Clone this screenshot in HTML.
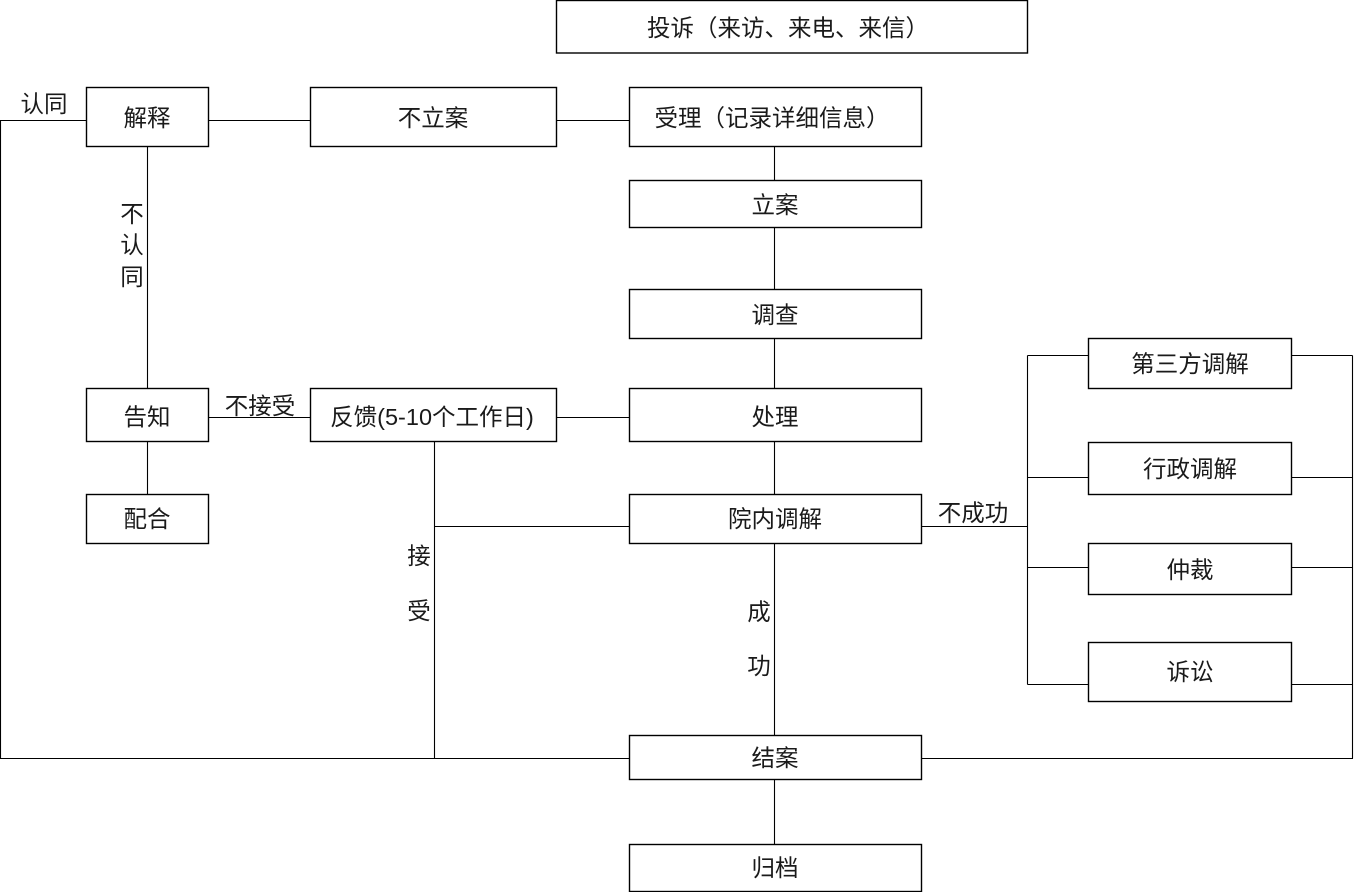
<!DOCTYPE html>
<html>
<head>
<meta charset="utf-8">
<style>
  html,body{margin:0;padding:0;background:#fff;}
  svg{display:block;}
  text{font-family:"Liberation Sans","Noto Sans CJK SC","WenQuanYi Zen Hei",sans-serif;font-size:23.5px;fill:#1a1a1a;}
</style>
</head>
<body>
<svg width="1354" height="892" viewBox="0 0 1354 892" xmlns="http://www.w3.org/2000/svg">
  <g fill="none" stroke="#000" stroke-width="1.4">
    <rect x="556.5" y="0.5" width="471" height="52.5"/>
    <rect x="86.5" y="87.5" width="122" height="59"/>
    <rect x="310.5" y="87.5" width="246" height="59"/>
    <rect x="629.5" y="87.5" width="292" height="59"/>
    <rect x="629.5" y="180.5" width="292" height="47"/>
    <rect x="629.5" y="289.5" width="292" height="49"/>
    <rect x="86.5" y="388.5" width="122" height="53"/>
    <rect x="310.5" y="388.5" width="246" height="53"/>
    <rect x="629.5" y="388.5" width="292" height="53"/>
    <rect x="86.5" y="494.5" width="122" height="49"/>
    <rect x="629.5" y="494.5" width="292" height="49"/>
    <rect x="629.5" y="735.5" width="292" height="44"/>
    <rect x="629.5" y="844.5" width="292" height="47"/>
    <rect x="1088.5" y="338.5" width="203" height="50"/>
    <rect x="1088.5" y="442.5" width="203" height="52"/>
    <rect x="1088.5" y="543.5" width="203" height="51"/>
    <rect x="1088.5" y="642.5" width="203" height="59"/>
  </g>
  <g fill="none" stroke="#000" stroke-width="1.1">
    <line x1="0" y1="120.5" x2="86.5" y2="120.5"/>
    <line x1="208.5" y1="120.5" x2="310.5" y2="120.5"/>
    <line x1="556.5" y1="120.5" x2="629.5" y2="120.5"/>
    <line x1="0.5" y1="120" x2="0.5" y2="758.5"/>
    <line x1="0" y1="758.5" x2="629.5" y2="758.5"/>
    <line x1="921.5" y1="758.5" x2="1353" y2="758.5"/>
    <line x1="147.5" y1="146.5" x2="147.5" y2="388.5"/>
    <line x1="147.5" y1="441.5" x2="147.5" y2="494.5"/>
    <line x1="208.5" y1="417.5" x2="310.5" y2="417.5"/>
    <line x1="556.5" y1="417.5" x2="629.5" y2="417.5"/>
    <line x1="434.5" y1="441.5" x2="434.5" y2="758.5"/>
    <line x1="434.5" y1="526.5" x2="629.5" y2="526.5"/>
    <line x1="921.5" y1="526.5" x2="1027.5" y2="526.5"/>
    <line x1="774.5" y1="146.5" x2="774.5" y2="180.5"/>
    <line x1="774.5" y1="227.5" x2="774.5" y2="289.5"/>
    <line x1="774.5" y1="338.5" x2="774.5" y2="388.5"/>
    <line x1="774.5" y1="441.5" x2="774.5" y2="494.5"/>
    <line x1="774.5" y1="543.5" x2="774.5" y2="735.5"/>
    <line x1="774.5" y1="779.5" x2="774.5" y2="844.5"/>
    <line x1="1027.5" y1="355.5" x2="1027.5" y2="684.5"/>
    <line x1="1027.5" y1="355.5" x2="1088.5" y2="355.5"/>
    <line x1="1027.5" y1="477.5" x2="1088.5" y2="477.5"/>
    <line x1="1027.5" y1="567.5" x2="1088.5" y2="567.5"/>
    <line x1="1027.5" y1="684.5" x2="1088.5" y2="684.5"/>
    <line x1="1291.5" y1="355.5" x2="1352.5" y2="355.5"/>
    <line x1="1291.5" y1="477.5" x2="1352.5" y2="477.5"/>
    <line x1="1291.5" y1="567.5" x2="1352.5" y2="567.5"/>
    <line x1="1291.5" y1="684.5" x2="1352.5" y2="684.5"/>
    <line x1="1352.5" y1="355.5" x2="1352.5" y2="758.5"/>
  </g>
  <g text-anchor="middle" dominant-baseline="central">
    <text x="788" y="28">投诉（来访、来电、来信）</text>
    <text x="147" y="118">解释</text>
    <text x="433" y="118">不立案</text>
    <text x="772" y="118">受理（记录详细信息）</text>
    <text x="775" y="205">立案</text>
    <text x="775" y="315">调查</text>
    <text x="147" y="417">告知</text>
    <text x="432" y="417">反馈(5-10个工作日)</text>
    <text x="775" y="417">处理</text>
    <text x="147" y="519">配合</text>
    <text x="775" y="519">院内调解</text>
    <text x="775" y="758">结案</text>
    <text x="775" y="868">归档</text>
    <text x="1190" y="364">第三方调解</text>
    <text x="1190" y="469">行政调解</text>
    <text x="1190" y="570">仲裁</text>
    <text x="1190" y="672">诉讼</text>
    <text x="44" y="104">认同</text>
    <text x="132" y="214">不</text>
    <text x="132" y="245">认</text>
    <text x="132" y="277">同</text>
    <text x="260" y="406">不接受</text>
    <text x="419" y="556">接</text>
    <text x="419" y="611">受</text>
    <text x="759" y="612">成</text>
    <text x="759" y="666">功</text>
    <text x="973" y="513">不成功</text>
  </g>
</svg>
</body>
</html>
